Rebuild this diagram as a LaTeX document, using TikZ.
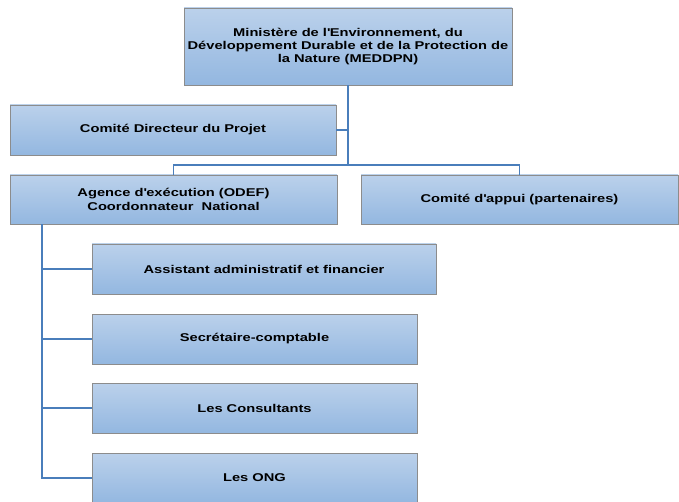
\documentclass[tikz,border=0pt]{standalone}
\usepackage{fontspec}
\setmainfont{Liberation Sans}[FakeStretch=1.3]
\begin{document}
\begin{tikzpicture}[x=1pt,y=-1pt,
  box/.style={draw=black!45, line width=0.9pt, top color=boxtop, bottom color=boxbot,
    inner sep=0pt, align=center, font=\fontsize{11.3}{13.4}\selectfont\bfseries, text=black},
  link/.style={draw=linkblue, line width=1.5pt}]
\definecolor{boxtop}{HTML}{BBD1EB}
\definecolor{boxbot}{HTML}{93B7E0}
\definecolor{linkblue}{HTML}{4A7EBB}
\useasboundingbox (0,0) rectangle (679,502);
\begin{scope}
\clip (0,0) rectangle (679,502);
\node[box, minimum width=328pt, minimum height=77pt] (min) at (348,46.5)
  {Ministère de l\textquotesingle Environnement, du\\Développement Durable et de la Protection de\\la Nature (MEDDPN)};
\node[box, minimum width=326pt, minimum height=50pt] (cdp) at (173,130) {Comité Directeur du Projet};
\node[box, minimum width=327pt, minimum height=49pt] (age) at (173.5,199.5) {Agence d\textquotesingle exécution (ODEF)\\Coordonnateur\ \ National};
\node[box, minimum width=317pt, minimum height=49pt] (app) at (519.5,199.5) {Comité d\textquotesingle appui (partenaires)};
\node[box, minimum width=344pt, minimum height=50pt] (ass) at (264,269) {Assistant administratif et financier};
\node[box, minimum width=325pt, minimum height=50pt] (sec) at (254.5,339) {Secrétaire-comptable};
\node[box, minimum width=325pt, minimum height=50pt] (con) at (254.5,408) {Les Consultants};
\node[box, minimum width=325pt, minimum height=50pt] (ong) at (254.5,478) {Les ONG};
\coordinate (j1) at (348,165);
\coordinate (j2) at (348,130);
\coordinate (l0) at (42,224);
\draw[link] (min.south) -- (j1);
\draw[link] (cdp.east) -- (j2);
\draw[link] (age.north) |- (j1) -| (app.north);
\draw[link] (age.south -| l0) |- (ong.west);
\draw[link] (age.south -| l0) |- (ass.west);
\draw[link] (age.south -| l0) |- (sec.west);
\draw[link] (age.south -| l0) |- (con.west);
\end{scope}
\end{tikzpicture}
\end{document}
